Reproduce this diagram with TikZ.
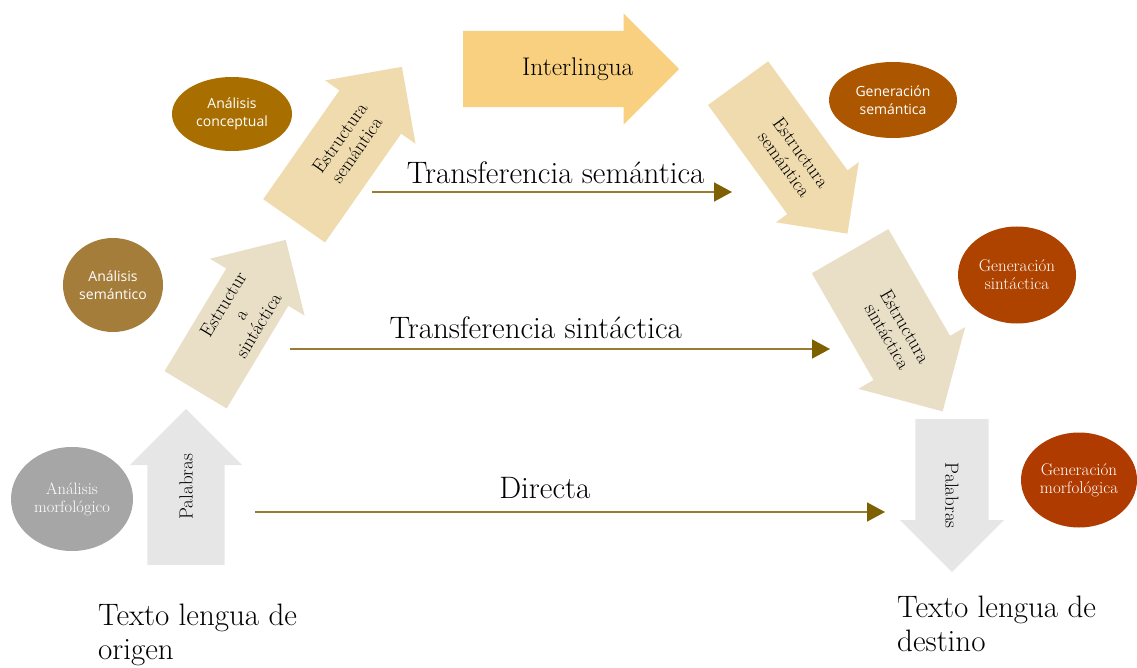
\documentclass[tikz,border=0pt]{standalone}
\usepackage{fontspec}
\newfontfamily\sinserif{Open Sans}
\usetikzlibrary{shapes.geometric,shapes.arrows,arrows.meta,calc}
\definecolor{grisclaro}{HTML}{E6E6E6}
\definecolor{beigesin}{HTML}{E9DEC6}
\definecolor{beigesem}{HTML}{EFDBAE}
\definecolor{amarillo}{HTML}{F8D080}
\definecolor{grismorf}{HTML}{A6A6A6}
\definecolor{ocresem}{HTML}{A57D3B}
\definecolor{ocrecon}{HTML}{A86F00}
\definecolor{naranjasem}{HTML}{AC5700}
\definecolor{naranjasin}{HTML}{AE4300}
\definecolor{naranjamorf}{HTML}{B03B00}
\definecolor{linea}{HTML}{9A7B33}
\definecolor{punta}{HTML}{7F6000}
\tikzset{
  flecha/.style={single arrow, draw=none, inner xsep=0pt, single arrow tip angle=90, anchor=tail},
  texflecha/.style={inner sep=0pt, align=center, font=\fontsize{19}{20.5}\selectfont},
  burbuja/.style={ellipse, draw=none, inner sep=0pt, align=center, text=white},
  etiqueta/.style={inner sep=0pt, font=\fontsize{31}{34}\selectfont},
  transf/.style={draw=linea, line width=1.6pt, -{Triangle[length=18pt,width=19pt,fill=punta,color=punta]}}
}
\begin{document}
\begin{tikzpicture}[x=1pt,y=-1pt]
\useasboundingbox (0,0) rectangle (1137,668);
\node[burbuja, fill=grismorf, minimum width=122pt, minimum height=104pt, font=\fontsize{16.5}{18}\selectfont] (morfOrigen) at (72,499) {Análisis\\morfológico};
\node[burbuja, fill=ocresem, minimum width=100pt, minimum height=94pt, font=\sinserif\fontsize{14}{18}\selectfont] (semOrigen) at (113,285) {Análisis\\semántico};
\node[burbuja, fill=ocrecon, minimum width=120pt, minimum height=74pt, font=\sinserif\fontsize{14}{18}\selectfont] (conOrigen) at (232,114) {Análisis\\conceptual};
\node[burbuja, fill=naranjasem, minimum width=128pt, minimum height=76pt, font=\sinserif\fontsize{14}{18}\selectfont] (semDestino) at (893,100) {Generación\\semántica};
\node[burbuja, fill=naranjasin, minimum width=118pt, minimum height=97pt, font=\fontsize{17}{18}\selectfont] (sinDestino) at (1017,275) {Generación\\sintáctica};
\node[burbuja, fill=naranjamorf, minimum width=116pt, minimum height=95pt, font=\fontsize{17}{18}\selectfont] (morfDestino) at (1079,480) {Generación\\morfológica};

\node[flecha, fill=grisclaro, inner ysep=38.5pt, minimum height=156pt, single arrow head extend=17.5pt, rotate=90] (palOrigen) at (186,565) {};
\node[flecha, fill=beigesin, inner ysep=36pt, minimum height=175pt, single arrow head extend=19pt, rotate=59] (estSinOrigen) at (195.5,390) {};
\node[flecha, fill=beigesem, inner ysep=37.5pt, minimum height=188pt, single arrow head extend=17.5pt, rotate=55] (estSemOrigen) at (294,221) {};
\node[flecha, fill=amarillo, inner ysep=38pt, minimum height=216pt, single arrow head extend=17.5pt] (interlingua) at (463,69) {};
\node[flecha, fill=beigesem, inner ysep=37pt, minimum height=186pt, single arrow head extend=14pt, rotate=-54] (estSemDestino) at (738,83) {};
\node[flecha, fill=beigesin, inner ysep=44pt, minimum height=185pt, single arrow head extend=17.5pt, rotate=-60] (estSinDestino) at (850,251) {};
\node[flecha, fill=grisclaro, inner ysep=36.5pt, minimum height=153pt, single arrow head extend=15.5pt, rotate=-90] (palDestino) at (952,419) {};

\node[texflecha, rotate=90] (palOrigenTxt) at ($(palOrigen.tail)!.5!(palOrigen.tip)$) {Palabras};
\node[texflecha, rotate=59] (estSinOrigenTxt) at ($(estSinOrigen.tail)!.5!(estSinOrigen.tip)$) {Estructur\\a\\sintáctica};
\node[texflecha, rotate=55] (estSemOrigenTxt) at ($(estSemOrigen.tail)!.5!(estSemOrigen.tip)$) {Estructura\\semántica};
\node[texflecha, font=\fontsize{25.5}{26}\selectfont] (interlinguaTxt) at ($(interlingua.tail)!.53!(interlingua.tip)$) {Interlingua};
\node[texflecha, rotate=-54] (estSemDestinoTxt) at ($(estSemDestino.tail)!.5!(estSemDestino.tip)$) {Estructura\\semántica};
\node[texflecha, rotate=-60] (estSinDestinoTxt) at ($(estSinDestino.tail)!.5!(estSinDestino.tip)$) {Estructura\\sintáctica};
\node[texflecha, rotate=-90] (palDestinoTxt) at ($(palDestino.tail)!.5!(palDestino.tip)$) {Palabras};

\coordinate (semIni) at (372,192);
\coordinate (semFin) at (732,192);
\coordinate (sinIni) at (290,349);
\coordinate (sinFin) at (830,349);
\coordinate (dirIni) at (255,512);
\coordinate (dirFin) at (885,512);
\draw[transf] (semIni) -- (semFin) node[etiqueta, pos=0.51, above=7pt] (semTxt) {Transferencia semántica};
\draw[transf] (sinIni) -- (sinFin) node[etiqueta, pos=0.455, above=9pt] (sinTxt) {Transferencia sintáctica};
\draw[transf] (dirIni) -- (dirFin) node[etiqueta, pos=0.46, above=12pt] (dirTxt) {Directa};

\node[etiqueta, align=left, anchor=north west] (origen) at (98,603.5) {Texto lengua de\\origen};
\node[etiqueta, align=left, anchor=north west] (destino) at (897,595.5) {Texto lengua de\\destino};
\end{tikzpicture}
\end{document}
